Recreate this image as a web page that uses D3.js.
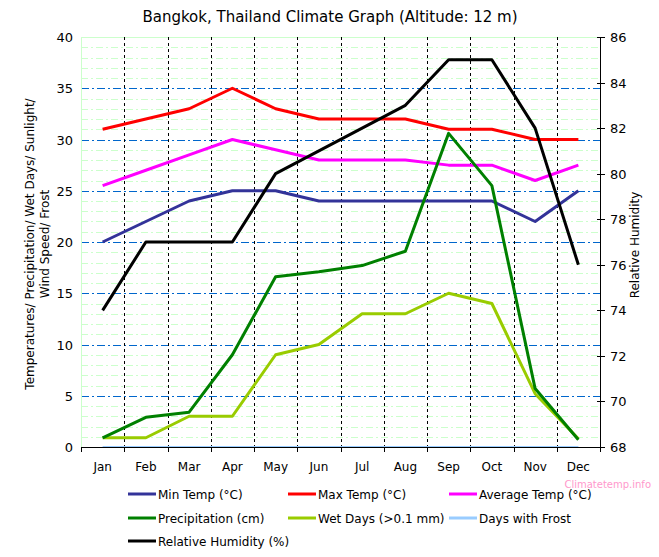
<!DOCTYPE html>
<html><head><meta charset="utf-8">
<script src="https://cdn.jsdelivr.net/npm/d3@7"></script>
<style>body{margin:0;background:#fff}svg{display:block;font-family:"DejaVu Sans",Verdana,sans-serif}</style>
</head><body><svg id="c" width="659" height="557"></svg>
<script>
const months = ["Jan","Feb","Mar","Apr","May","Jun","Jul","Aug","Sep","Oct","Nov","Dec"];
const minTemp = [20,22,24,25,25,24,24,24,24,24,22,25];
const maxTemp = [31,32,33,35,33,32,32,32,31,31,30,30];
const avgTemp = [25.5,27,28.5,30,29,28,28,28,27.5,27.5,26,27.5];
const precip = [0.9,2.9,3.4,9.0,16.6,17.1,17.7,19.1,30.6,25.5,5.7,0.7];
const wetDays = [0.9,0.9,3,3,9,10,13,13,15,14,5.2,0.8];
const frostDays = [0,0,0,0,0,0,0,0,0,0,0,0];
const humidity = [74,77,77,77,80,81,82,83,85,85,82,76];
const leftTicks = [0,5,10,15,20,25,30,35,40];
const rightTicks = [68,70,72,74,76,78,80,82,84,86];

const svg = d3.select("#c");
const L=81, R=600, T=37, B=447;
const x = d3.scaleBand().domain(months).range([L,R]);
const yL = d3.scaleLinear().domain([0,40]).range([B,T]);
const yR = d3.scaleLinear().domain([68,86]).range([B,T]);
const px = v=>Math.round(v)+0.5;

// minor grid
svg.append("g").attr("shape-rendering","crispEdges").selectAll("line").data(d3.range(1,40).filter(v=>v%5!==0)).join("line")
  .attr("x1",L).attr("x2",R).attr("y1",d=>px(yL(d))).attr("y2",d=>px(yL(d)))
  .attr("stroke","#ccffcc").attr("stroke-dasharray","7,3,2,3");
// major grid
svg.append("g").attr("shape-rendering","crispEdges").selectAll("line").data(leftTicks.filter(v=>v>0&&v<40)).join("line")
  .attr("x1",L).attr("x2",R).attr("y1",d=>px(yL(d))).attr("y2",d=>px(yL(d)))
  .attr("stroke","#0066cc").attr("stroke-dasharray","8,3,2,3");
// border top & left
svg.append("line").attr("x1",L).attr("x2",R).attr("y1",T+0.5).attr("y2",T+0.5).attr("stroke","#ccffcc");
svg.append("line").attr("x1",L+0.5).attr("x2",L+0.5).attr("y1",T).attr("y2",B).attr("stroke","#ccffcc");
// vertical month separators
svg.append("g").attr("shape-rendering","crispEdges").selectAll("line").data(months.slice(1)).join("line")
  .attr("x1",d=>px(x(d))).attr("x2",d=>px(x(d))).attr("y1",T).attr("y2",B)
  .attr("stroke","#000").attr("stroke-dasharray","3,3");

// series
const cx = (d,i)=>x(months[i])+x.bandwidth()/2;
const lineL = d3.line().x(cx).y(d=>yL(d));
const lineR = d3.line().x(cx).y(d=>yR(d));
const series = [
  {name:"Min Temp (°C)", data:minTemp, color:"#333399", gen:lineL},
  {name:"Max Temp (°C)", data:maxTemp, color:"#ff0000", gen:lineL},
  {name:"Average Temp (°C)", data:avgTemp, color:"#ff00ff", gen:lineL},
  {name:"Precipitation (cm)", data:precip, color:"#008000", gen:lineL},
  {name:"Wet Days (>0.1 mm)", data:wetDays, color:"#99cc00", gen:lineL},
  {name:"Days with Frost", data:frostDays, color:"#99ccff", gen:lineL},
  {name:"Relative Humidity (%)", data:humidity, color:"#000000", gen:lineR}
];
const drawOrder = [5,0,1,2,4,3,6];
drawOrder.forEach(k=>{
  const s=series[k];
  svg.append("path").attr("d",s.gen(s.data)).attr("fill","none")
    .attr("stroke",s.color).attr("stroke-width",k===5?2:3).attr("stroke-linejoin","round");
});

// bottom axis
svg.append("line").attr("x1",L).attr("x2",R).attr("y1",B+0.5).attr("y2",B+0.5).attr("stroke","#000");
svg.append("g").selectAll("line").data(d3.range(13)).join("line")
  .attr("x1",i=>px(L+i*x.bandwidth())).attr("x2",i=>px(L+i*x.bandwidth()))
  .attr("y1",B).attr("y2",B+5).attr("stroke","#000");
svg.append("g").selectAll("text").data(months).join("text")
  .attr("x",d=>x(d)+x.bandwidth()/2).attr("y",471).attr("text-anchor","middle")
  .attr("font-size",12).text(d=>d);
// left tick labels
svg.append("g").selectAll("text").data(leftTicks).join("text")
  .attr("x",73).attr("y",d=>yL(d)+5).attr("text-anchor","end").attr("font-size",13).text(d=>d);
// right axis
svg.append("line").attr("x1",R+0.5).attr("x2",R+0.5).attr("y1",T).attr("y2",B).attr("stroke","#000");
svg.append("g").selectAll("line").data(rightTicks).join("line")
  .attr("x1",R-3).attr("x2",R+5).attr("y1",d=>px(yR(d))).attr("y2",d=>px(yR(d))).attr("stroke","#000");
svg.append("g").selectAll("text").data(rightTicks).join("text")
  .attr("x",610).attr("y",d=>yR(d)+5).attr("font-size",13).text(d=>d);

// title
svg.append("text").attr("x",330).attr("y",22).attr("text-anchor","middle").attr("font-size",15)
  .text("Bangkok, Thailand Climate Graph (Altitude: 12 m)");
// axis titles
const lt = svg.append("text").attr("transform","translate(0,244) rotate(-90)").attr("text-anchor","middle").attr("font-size",12);
lt.append("tspan").attr("x",0).attr("y",34).text("Temperatures/ Precipitation/ Wet Days/ Sunlight/");
lt.append("tspan").attr("x",0).attr("y",49).text("Wind Speed/ Frost");
svg.append("text").attr("transform","translate(639,245) rotate(-90)").attr("text-anchor","middle").attr("font-size",12)
  .text("Relative Humidity");
// watermark
svg.append("text").attr("x",651).attr("y",488).attr("text-anchor","end").attr("font-size",10).attr("fill","#ff99cc").text("Climatetemp.info");

// legend
const colX=[128,288,449], rowY=[494,518,541];
series.forEach((s,i)=>{
  const cxp=colX[i%3], cyp=rowY[Math.floor(i/3)];
  svg.append("line").attr("x1",cxp).attr("x2",cxp+28).attr("y1",cyp).attr("y2",cyp).attr("stroke",s.color).attr("stroke-width",3);
  svg.append("text").attr("x",cxp+30).attr("y",cyp+5).attr("font-size",12).text(s.name);
});
</script></body></html>
